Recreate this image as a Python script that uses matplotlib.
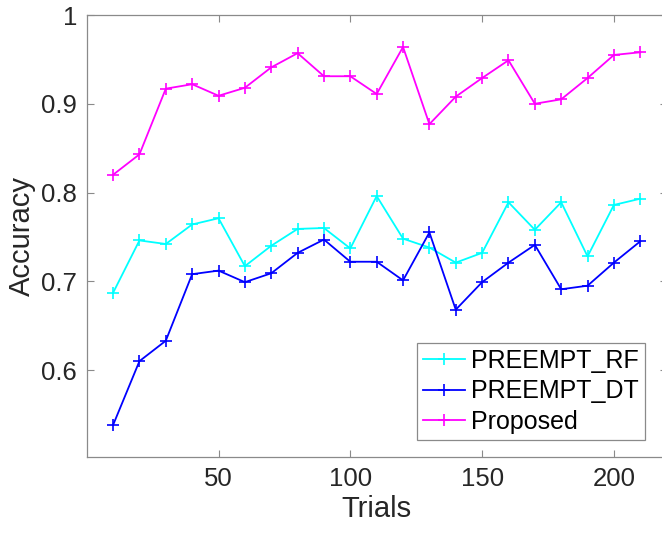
import numpy as np
import matplotlib
matplotlib.use("Agg")
import matplotlib.pyplot as plt

trials = [10, 20, 30, 40, 50, 60, 70, 80, 90, 100, 110,
          120, 130, 140, 150, 160, 170, 180, 190, 200, 210]

acc_rf = [0.687, 0.746, 0.742, 0.764, 0.771, 0.717, 0.740, 0.759, 0.760, 0.737, 0.796,
          0.748, 0.738, 0.721, 0.732, 0.789, 0.758, 0.789, 0.728, 0.786, 0.793]
acc_dt = [0.538, 0.610, 0.633, 0.708, 0.712, 0.699, 0.709, 0.732, 0.747, 0.722, 0.722,
          0.701, 0.755, 0.668, 0.699, 0.721, 0.741, 0.691, 0.695, 0.721, 0.745]
acc_prop = [0.820, 0.843, 0.917, 0.922, 0.909, 0.918, 0.941, 0.957, 0.931, 0.931, 0.911,
            0.964, 0.877, 0.908, 0.929, 0.949, 0.900, 0.905, 0.929, 0.955, 0.958]

yticks = [0.6, 0.7, 0.8, 0.9, 1.0]
yticklabels = ["0.6", "0.7", "0.8", "0.9", "1"]
xticks = [50, 100, 150, 200]

plt.rcParams['font.family'] = ['Liberation Sans', 'DejaVu Sans']

fig = plt.figure(figsize=(6.62, 5.34), dpi=100)
ax = fig.add_axes([0.131, 0.1442, 0.876, 0.8277])

#plotting the three series
ax.plot(trials, acc_rf, color="#00FFFF", marker="+", ms=9, mew=1.2, lw=1.3, label="PREEMPT_RF")
ax.plot(trials, acc_dt, color="#0000FF", marker="+", ms=9, mew=1.2, lw=1.3, label="PREEMPT_DT")
ax.plot(trials, acc_prop, color="#FF00FF", marker="+", ms=9, mew=1.2, lw=1.3, label="Proposed")

ax.set_xlim(0, 220)
ax.set_ylim(0.502, 1.0)
ax.set_xticks(xticks)
ax.set_xticklabels([str(t) for t in xticks])
ax.set_yticks(yticks)
ax.set_yticklabels(yticklabels)

for s in ax.spines.values():
    s.set_color("#8a8a8a")
    s.set_linewidth(0.9)
ax.tick_params(direction="in", length=5, width=0.8, color="#8a8a8a",
               top=True, right=True, labelsize=18.5, labelcolor="#262626", pad=7)

ax.set_xlabel("Trials", fontsize=21, color="#262626", labelpad=3)
ax.set_ylabel("Accuracy", fontsize=21, color="#262626", labelpad=4)

leg = ax.legend(loc="lower right", bbox_to_anchor=(0.9626, 0.0385), borderaxespad=0,
                fontsize=18, fancybox=False, framealpha=1, edgecolor="#8a8a8a",
                handlelength=1.65, handletextpad=0.25, borderpad=0.25, labelspacing=0.25)
leg.get_frame().set_linewidth(0.9)

fig.savefig("out.png", dpi=100)
